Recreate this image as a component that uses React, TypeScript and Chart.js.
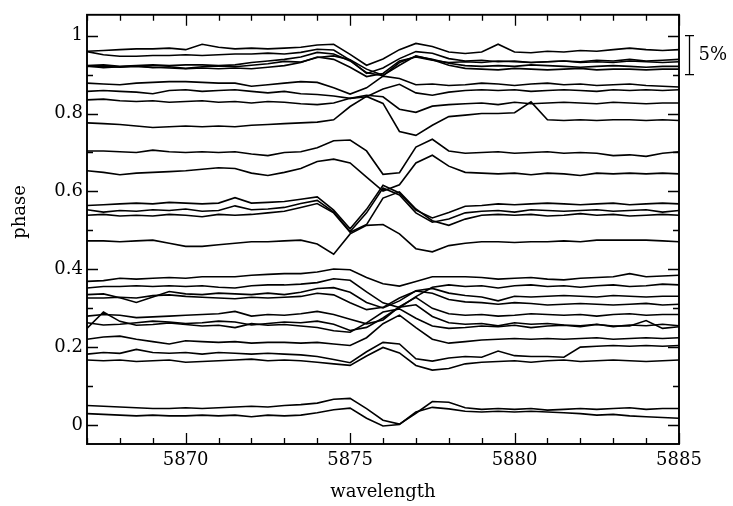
import React, { useEffect, useRef } from "react";
import { Chart, registerables } from "chart.js";

Chart.register(...registerables);

// wavelength grid (Angstrom)
const wavelengths = [
  5867, 5867.5, 5868, 5868.5, 5869, 5869.5, 5870, 5870.5, 5871, 5871.5,
  5872, 5872.5, 5873, 5873.5, 5874, 5874.5, 5875, 5875.5, 5876, 5876.5,
  5877, 5877.5, 5878, 5878.5, 5879, 5879.5, 5880, 5880.5, 5881, 5881.5,
  5882, 5882.5, 5883, 5883.5, 5884, 5884.5, 5885,
];

// phase of each spectrum (vertical offset)
const phases = [
  0.962, 0.949, 0.923, 0.92, 0.915, 0.878, 0.857, 0.835, 0.774, 0.704, 0.653,
  0.564, 0.551, 0.539, 0.471, 0.373, 0.354, 0.335, 0.3265, 0.28, 0.263,
  0.2545, 0.2205, 0.1824, 0.1654, 0.0466, 0.0297,
];

// relative flux of each spectrum, in percent of the continuum
const p096 = [-0.1, 0.0, 0.1, 0.2, 0.2, 0.3, 0.1, 0.8, 0.4, 0.2, 0.3, 0.2, 0.3, 0.4, 0.7, 0.8, -0.5, -1.9, -1.1, 0.1, 0.9, 0.5, -0.2, -0.4, -0.2, 0.8, -0.2, -0.3, -0.1, -0.2, 0.0, -0.1, 0.1, 0.3, 0.1, 0.0, 0.1];
const p095 = [0.5, 0.1, -0.1, -0.1, 0.0, 0.0, 0.1, 0.0, 0.1, 0.2, 0.2, 0.3, 0.2, 0.4, 0.8, 0.7, -0.6, -2.3, -1.6, -0.4, 0.5, 0.3, -0.4, -0.7, -0.6, -0.8, -0.7, -0.9, -0.8, -0.7, -0.8, -0.6, -0.7, -0.5, -0.7, -0.6, -0.5];
const p093 = [0.0, 0.1, -0.1, 0.0, 0.1, 0.0, 0.1, 0.1, 0.0, 0.1, 0.4, 0.6, 0.8, 1.1, 1.7, 1.5, 0.6, -0.9, -1.3, 0.4, 1.2, 0.8, 0.3, 0.0, -0.1, 0.0, -0.1, 0.1, 0.0, -0.1, -0.2, -0.1, 0.0, -0.1, -0.2, -0.1, -0.1];
const p092 = [0.1, -0.1, 0.0, 0.1, -0.1, 0.0, -0.2, 0.0, 0.1, 0.0, 0.2, 0.4, 0.7, 0.6, 1.2, 1.4, 0.9, -0.3, -1.1, 0.2, 1.4, 0.9, 0.2, -0.2, -0.3, -0.4, -0.2, -0.3, -0.4, -0.3, -0.2, -0.4, -0.3, -0.3, -0.4, -0.3, -0.3];
const p091 = [0.3, 0.3, 0.2, 0.3, 0.2, 0.1, 0.0, 0.1, 0.0, 0.1, 0.0, 0.2, 0.4, 0.8, 1.5, 1.2, 0.2, -1.0, -0.6, 1.0, 1.5, 1.1, 0.8, 0.9, 0.8, 1.0, 0.9, 0.8, 0.9, 1.0, 0.8, 0.9, 0.8, 1.0, 0.9, 0.8, 0.9];
const p088 = [0.0, -0.1, -0.2, 0.0, 0.1, 0.2, 0.2, 0.1, 0.0, 0.0, -0.4, -0.2, 0.0, 0.2, 0.1, -0.6, -1.4, -0.6, 0.9, 0.6, -0.2, -0.1, -0.3, -0.2, 0.0, -0.1, -0.3, -0.1, 0.0, -0.2, -0.1, -0.3, -0.2, -0.1, -0.3, -0.4, -0.5];
const p086 = [0.0, 0.1, 0.0, -0.1, -0.3, 0.1, 0.2, 0.0, 0.1, 0.2, 0.0, -0.2, 0.0, -0.3, -0.4, -0.6, -0.9, -0.7, 0.3, 0.9, -0.2, -0.5, -0.1, 0.1, 0.2, 0.1, 0.2, 0.0, 0.1, 0.2, 0.1, 0.0, 0.2, 0.1, 0.2, 0.1, 0.2];
const p084 = [0.0, 0.1, -0.1, -0.2, -0.1, -0.3, -0.2, -0.1, -0.3, -0.2, -0.4, -0.2, -0.3, -0.5, -0.6, -0.4, 0.2, 0.6, 0.4, -1.2, -1.6, -0.8, -0.6, -0.5, -0.4, -0.6, -0.3, -0.5, -0.4, -0.3, -0.4, -0.5, -0.3, -0.4, -0.5, -0.4, -0.4];
const p078 = [0.1, 0.0, -0.1, -0.3, -0.5, -0.4, -0.3, -0.4, -0.3, -0.4, -0.2, -0.1, 0.0, 0.1, 0.2, 0.5, 2.2, 3.5, 2.6, -1.0, -1.5, -0.2, 0.9, 1.1, 1.3, 1.3, 1.4, 2.8, 0.5, 0.4, 0.5, 0.4, 0.5, 0.5, 0.4, 0.5, 0.4];
const p070 = [0.0, 0.0, -0.1, -0.2, 0.1, -0.1, -0.2, -0.1, -0.2, -0.1, -0.4, -0.6, -0.2, -0.1, 0.4, 1.3, 1.4, 0.0, -3.0, -2.8, 0.5, 1.5, 0.0, -0.3, -0.2, -0.1, -0.3, -0.2, -0.1, -0.3, -0.2, -0.3, -0.6, -0.5, -0.7, -0.3, -0.1];
const p065 = [0.0, -0.2, -0.5, -0.3, -0.2, -0.1, 0.0, 0.2, 0.4, 0.3, -0.3, -0.6, -0.2, 0.3, 1.2, 1.5, 1.0, -0.8, -2.6, -1.8, 1.0, 2.0, 0.6, -0.2, -0.3, -0.4, -0.3, -0.5, -0.3, -0.4, -0.6, -0.3, -0.4, -0.3, -0.4, -0.3, -0.4];
const p056 = [0.0, 0.1, 0.2, 0.3, 0.2, 0.4, 0.3, 0.2, 0.3, 1.0, 0.3, 0.4, 0.5, 0.8, 1.1, -0.6, -3.0, -0.5, 2.6, 1.6, -0.6, -1.6, -0.9, -0.1, 0.0, 0.2, 0.1, 0.2, 0.3, 0.2, 0.1, 0.2, 0.3, 0.1, 0.2, 0.3, 0.2];
const p055 = [0.1, -0.2, 0.0, -0.1, 0.1, 0.0, 0.2, -0.1, 0.0, 0.6, 0.1, 0.2, 0.4, 0.9, 1.3, -0.2, -2.7, -0.3, 2.9, 2.0, -0.3, -1.5, -1.1, -0.3, -0.1, 0.0, -0.2, 0.1, 0.0, -0.1, 0.0, 0.1, -0.1, 0.0, 0.1, -0.2, 0.0];
const p054 = [0.0, 0.1, -0.1, 0.0, -0.1, 0.1, 0.0, -0.2, 0.1, 0.0, 0.1, 0.3, 0.5, 1.0, 1.5, 0.3, -2.2, -1.2, 2.2, 3.0, 0.8, -0.7, -1.3, -0.5, 0.0, 0.1, 0.0, 0.1, -0.1, 0.0, 0.2, 0.0, 0.1, -0.1, 0.0, 0.1, 0.0];
const p047 = [0.1, 0.1, 0.0, 0.1, 0.2, -0.2, -0.6, -0.6, -0.4, -0.2, 0.0, 0.0, 0.1, 0.2, -0.3, -1.6, 1.0, 2.1, 2.2, 1.0, -0.9, -1.3, -0.5, -0.2, 0.0, 0.0, -0.1, 0.0, 0.0, 0.1, 0.0, 0.2, 0.2, 0.2, 0.2, 0.1, 0.0];
const p037 = [-0.2, -0.1, 0.2, 0.1, 0.2, 0.3, 0.2, 0.4, 0.4, 0.4, 0.6, 0.7, 0.8, 0.8, 1.0, 1.4, 1.3, 0.3, -0.5, -0.8, -0.2, 0.4, 0.4, 0.4, 0.3, 0.1, 0.2, 0.3, 0.1, 0.0, 0.2, 0.3, 0.4, 0.8, 0.4, 0.5, 0.6];
const p035 = [-0.1, 0.1, 0.1, 0.2, 0.1, 0.2, 0.1, 0.2, 0.0, -0.1, 0.2, 0.3, 0.3, 0.4, 0.6, 1.1, 0.9, -0.6, -2.0, -2.6, -1.2, 0.0, 0.3, 0.1, 0.2, -0.1, 0.2, 0.3, 0.1, 0.2, 0.0, 0.2, 0.3, 0.1, 0.2, 0.4, 0.3];
const p034 = [0.0, 0.1, -0.4, -1.0, -0.3, 0.4, 0.1, 0.0, 0.2, 0.1, 0.0, 0.2, 0.0, 0.3, 0.8, 0.9, 0.3, -1.0, -1.7, -0.8, 0.5, 0.8, 0.2, -0.1, -0.3, -0.8, -0.2, -0.3, -0.2, -0.1, -0.2, -0.3, -0.1, -0.2, -0.3, -0.2, -0.2];
const p033 = [0.0, 0.0, 0.1, 0.0, 0.3, 0.4, 0.2, 0.1, 0.0, -0.1, 0.1, 0.0, 0.1, 0.2, 0.6, 0.4, -0.6, -1.5, -1.2, 0.0, 0.9, 0.6, -0.2, -0.5, -0.6, -0.8, -0.6, -0.7, -0.9, -0.8, -0.7, -0.8, -0.9, -0.8, -0.7, -0.9, -0.8];
const p028 = [0.0, 0.2, 0.1, -0.2, -0.1, 0.0, 0.1, 0.2, 0.3, 0.6, 0.0, 0.2, 0.1, 0.3, 0.6, 0.2, -0.4, -1.0, -0.5, 1.2, 2.4, 1.0, 0.3, 0.1, 0.2, 0.0, 0.1, 0.3, 0.2, 0.1, 0.2, 0.0, 0.2, 0.3, 0.1, 0.2, 0.2];
const p026 = [0.0, -0.3, -0.2, 0.0, 0.2, 0.1, -0.1, 0.0, 0.2, 0.1, -0.3, -0.1, 0.1, 0.0, 0.2, -0.2, -1.0, -0.6, 0.6, 2.0, 2.3, 0.8, 0.0, -0.2, -0.1, -0.4, 0.0, -0.2, -0.1, -0.3, -0.4, -0.2, -0.5, -0.3, -0.4, -0.2, -0.4];
const p025 = [-0.3, 1.8, 0.6, 0.1, 0.2, 0.4, 0.2, 0.0, 0.1, -0.2, 0.3, 0.1, 0.2, 0.0, -0.2, -0.6, -0.8, 0.4, 1.8, 2.2, 1.0, 0.0, -0.3, -0.2, 0.0, -0.1, 0.1, -0.2, 0.0, 0.1, -0.1, 0.2, 0.0, 0.0, 0.7, -0.3, -0.1];
const p022 = [0.0, 0.3, 0.4, 0.0, -0.3, -0.6, -0.2, -0.3, -0.4, -0.3, -0.5, -0.4, -0.4, -0.5, -0.4, -0.6, -0.8, 0.2, 2.0, 3.1, 1.5, 0.0, -0.5, -0.3, -0.1, 0.0, 0.1, 0.0, 0.1, 0.0, 0.1, 0.2, 0.0, 0.1, 0.2, 0.1, 0.2];
const p018 = [0.0, 0.2, 0.1, 0.6, 0.2, 0.1, 0.2, 0.0, 0.2, 0.1, 0.0, 0.1, 0.0, -0.1, -0.3, -0.7, -1.1, 0.3, 1.5, 1.3, -0.6, -0.9, -0.5, -0.3, -0.4, 0.4, -0.2, -0.3, -0.3, -0.4, 0.9, 1.0, 1.1, 1.0, 1.1, 1.0, 1.1];
const p016 = [0.1, 0.0, 0.1, -0.1, 0.0, 0.1, -0.2, -0.1, 0.0, 0.1, 0.2, 0.0, 0.1, 0.0, -0.2, -0.4, -0.6, 0.6, 1.7, 1.0, -0.6, -1.2, -1.0, -0.4, -0.2, -0.1, 0.0, -0.2, 0.0, 0.1, -0.1, 0.0, 0.1, 0.0, -0.1, 0.0, 0.1];
const p005 = [0.2, 0.1, 0.0, -0.1, -0.2, -0.2, -0.1, -0.2, -0.1, 0.0, 0.1, 0.0, 0.2, 0.3, 0.5, 1.0, 1.1, -0.2, -1.7, -2.2, -0.8, 0.7, 0.6, -0.1, -0.3, -0.2, -0.3, -0.2, -0.4, -0.3, -0.2, -0.3, -0.2, -0.1, -0.3, -0.2, -0.2];
const p003 = [0.0, -0.1, -0.2, -0.3, -0.2, -0.3, -0.3, -0.2, -0.3, -0.2, -0.4, -0.2, -0.3, -0.2, 0.1, 0.5, 0.7, -0.6, -1.6, -1.4, 0.2, 0.8, 0.6, 0.3, 0.2, 0.3, 0.2, 0.3, 0.2, 0.1, 0.0, -0.2, -0.1, -0.3, -0.4, -0.5, -0.6];

const profiles = [
  p096, p095, p093, p092, p091, p088, p086, p084, p078, p070, p065,
  p056, p055, p054, p047, p037, p035, p034, p033, p028, p026,
  p025, p022, p018, p016, p005, p003,
];

// 1 % of flux expressed in phase units
const PCT = 0.02;
const scaleBarPct = 5;

const xTicks = [5870, 5875, 5880, 5885];
const yTicks = [0, 0.2, 0.4, 0.6, 0.8, 1];
const xMin = 5867;
const xMax = 5885;
const yMin = -0.0484;
const yMax = 1.0535;

const FONT = '"DejaVu Serif", "Liberation Serif", serif';

const framePlugin = {
  id: "frameTicks",
  afterDraw(chart: any) {
    const { ctx, chartArea: a, scales } = chart;
    const x = scales.x;
    const y = scales.y;
    ctx.save();
    ctx.strokeStyle = "#000";
    ctx.lineWidth = 1.3;
    ctx.beginPath();
    for (let v = xMin; v <= xMax; v++) {
      const px = Math.round(x.getPixelForValue(v)) + 0.5;
      const len = v % 5 === 0 ? 11 : 6;
      ctx.moveTo(px, a.bottom);
      ctx.lineTo(px, a.bottom - len);
      ctx.moveTo(px, a.top);
      ctx.lineTo(px, a.top + len);
    }
    for (let k = 0; k <= 10; k++) {
      const py = Math.round(y.getPixelForValue(k / 10)) + 0.5;
      const len = k % 2 === 0 ? 11 : 6;
      ctx.moveTo(a.left, py);
      ctx.lineTo(a.left + len, py);
      ctx.moveTo(a.right, py);
      ctx.lineTo(a.right - len, py);
    }
    ctx.stroke();
    ctx.lineWidth = 1.9;
    ctx.strokeRect(a.left, a.top, a.right - a.left, a.bottom - a.top);

    // 5% scale bar
    const bx = a.right + 10.5;
    const y1 = y.getPixelForValue(1);
    const y2 = y.getPixelForValue(1 - scaleBarPct * PCT);
    ctx.lineWidth = 1.3;
    ctx.beginPath();
    ctx.moveTo(bx, y1);
    ctx.lineTo(bx, y2);
    ctx.moveTo(bx - 4.5, y1);
    ctx.lineTo(bx + 4.5, y1);
    ctx.moveTo(bx - 4.5, y2);
    ctx.lineTo(bx + 4.5, y2);
    ctx.stroke();
    ctx.fillStyle = "#000";
    ctx.font = `18px ${FONT}`;
    ctx.textAlign = "left";
    ctx.textBaseline = "middle";
    ctx.fillText(`${scaleBarPct}%`, bx + 9, (y1 + y2) / 2);

    // axis titles
    ctx.font = `18px ${FONT}`;
    ctx.textAlign = "center";
    ctx.fillText("wavelength", (a.left + a.right) / 2, 492);
    ctx.translate(20, 212);
    ctx.rotate(-Math.PI / 2);
    ctx.fillText("phase", 0, 0);
    ctx.restore();
  },
};

export default function App() {
  const ref = useRef<HTMLCanvasElement | null>(null);

  useEffect(() => {
    if (!ref.current) return;
    const datasets = profiles.map((vals, k) => ({
      label: `phase ${phases[k]}`,
      data: wavelengths.map((w, i) => ({ x: w, y: phases[k] + vals[i] * PCT })),
      borderColor: "#000",
      borderWidth: 1.6,
      pointRadius: 0,
      fill: false,
      tension: 0,
    }));
    const chart = new Chart(ref.current, {
      type: "line",
      data: { datasets },
      options: {
        responsive: false,
        animation: false,
        layout: { padding: { left: 0, right: 54, top: 11, bottom: 0 } },
        plugins: { legend: { display: false }, tooltip: { enabled: false } },
        scales: {
          x: {
            type: "linear",
            min: xMin,
            max: xMax,
            afterBuildTicks: (s: any) => {
              s.ticks = xTicks.map((v) => ({ value: v }));
            },
            afterFit: (s: any) => {
              s.height = 62;
            },
            grid: { display: false, drawTicks: false },
            border: { display: false },
            ticks: {
              autoSkip: false,
              maxRotation: 0,
              padding: 6,
              color: "#000",
              font: { family: FONT, size: 18 },
              callback: (v: any) => String(v),
            },
          },
          y: {
            type: "linear",
            min: yMin,
            max: yMax,
            afterBuildTicks: (s: any) => {
              s.ticks = yTicks.map((v) => ({ value: v }));
            },
            afterFit: (s: any) => {
              s.width = 87;
            },
            grid: { display: false, drawTicks: false },
            border: { display: false },
            ticks: {
              padding: 4,
              color: "#000",
              font: { family: FONT, size: 18 },
              callback: (v: any) => String(Math.round(v * 10) / 10),
            },
          },
        },
      },
      plugins: [framePlugin],
    });
    return () => chart.destroy();
  }, []);

  return (
    <div style={{ position: "fixed", left: 0, top: 0, width: 733, height: 506, background: "#fff" }}>
      <canvas ref={ref} width={733} height={506} style={{ display: "block" }} />
    </div>
  );
}
